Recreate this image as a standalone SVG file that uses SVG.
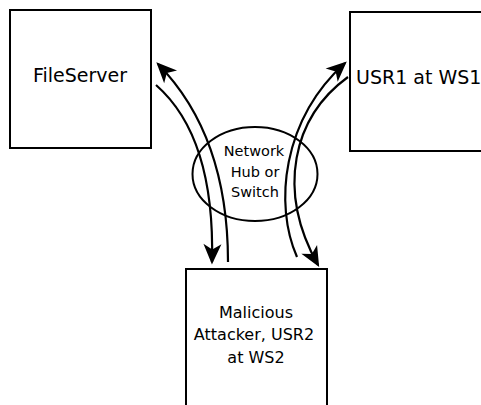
<svg xmlns="http://www.w3.org/2000/svg" width="481" height="405" viewBox="0 0 481 405">
<style>
.box{fill:#fff;stroke:#000;stroke-width:2}
.hub{fill:none;stroke:#000;stroke-width:2}
.t{font-family:"DejaVu Sans",sans-serif;fill:#000;text-anchor:middle}
.c{fill:none;stroke:#000;stroke-width:2.2}
</style>
<defs>
<marker id="ah" markerUnits="userSpaceOnUse" markerWidth="24" markerHeight="24" viewBox="-17 -10 20 20" refX="0" refY="0" orient="auto">
<path d="M2,0 L-15,-7.5 L-10.5,0 L-15,7.5 Z" fill="#000"/>
</marker>
</defs>
<rect width="481" height="405" fill="#fff"/>
<g id="fileserver">
<rect class="box" x="10" y="10" width="141" height="138"/>
<text class="t" x="80" y="82" font-size="19">FileServer</text>
</g>
<g id="usr1">
<rect class="box" x="350" y="12" width="141" height="139"/>
<text class="t" x="356" y="84" font-size="19" style="text-anchor:start">USR1 at WS1</text>
</g>
<g id="hub">
<ellipse class="hub" cx="255" cy="174" rx="62.5" ry="47"/>
<text class="t" x="254" y="156" font-size="14.5">Network</text>
<text class="t" x="255" y="176.5" font-size="14.5">Hub or</text>
<text class="t" x="255" y="196.5" font-size="14.5">Switch</text>
</g>
<g id="attacker">
<rect class="box" x="186" y="269" width="141" height="150"/>
<text class="t" x="256" y="318" font-size="16">Malicious</text>
<text class="t" x="254" y="340" font-size="16">Attacker, USR2</text>
<text class="t" x="256" y="362.5" font-size="16">at WS2</text>
</g>
<g id="connectors">
<path class="c" d="M228,262 C228,180 205,112 158,64" marker-end="url(#ah)"/>
<path class="c" d="M156,85 C196,120 214,180 212,262" marker-end="url(#ah)"/>
<path class="c" d="M297,257 C274,205 282,120 345,63" marker-end="url(#ah)"/>
<path class="c" d="M348,77 C293,117 276,190 318,265" marker-end="url(#ah)"/>
</g>
</svg>
